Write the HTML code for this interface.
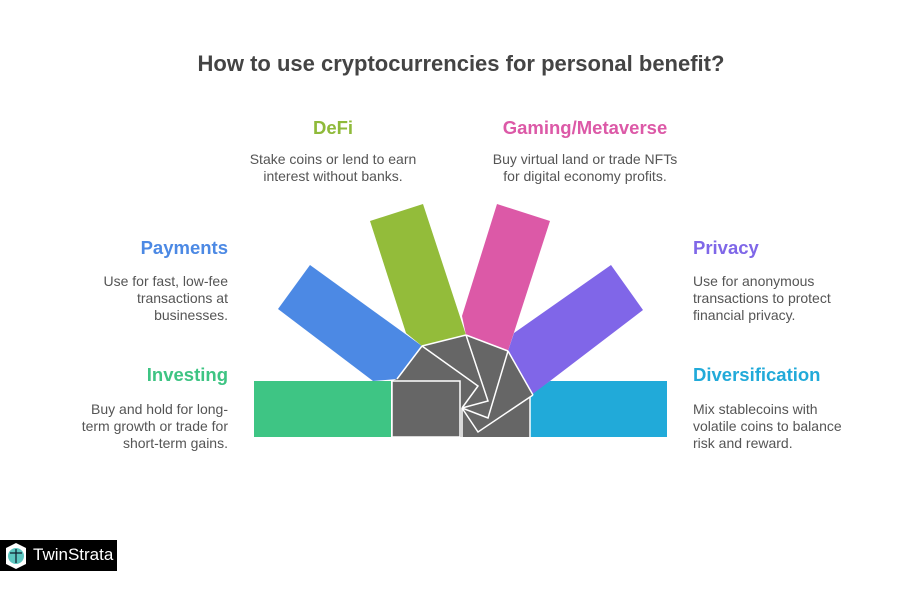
<!DOCTYPE html>
<html><head><meta charset="utf-8"><style>
body{margin:0;width:922px;height:600px;background:#fff;position:relative;overflow:hidden;font-family:"Liberation Sans",sans-serif;}
.t{position:absolute;white-space:nowrap;}
.h{font-weight:bold;font-size:18.5px;}
.d{font-size:14px;color:#555;line-height:17px;}
.r{text-align:right;}
.c{text-align:center;}
</style></head><body>
<div class="t c" style="left:0;width:922px;top:51px;font-size:22px;font-weight:bold;color:#444;">How to use cryptocurrencies for personal benefit?</div>

<div class="t h c" style="left:233px;width:200px;top:117px;color:#8fba3a;">DeFi</div>
<div class="t d c" style="left:223px;width:220px;top:151px;">Stake coins or lend to earn<br>interest without banks.</div>

<div class="t h c" style="left:485px;width:200px;top:117px;color:#dc59a7;">Gaming/Metaverse</div>
<div class="t d c" style="left:465px;width:240px;top:151px;">Buy virtual land or trade NFTs<br>for digital economy profits.</div>

<div class="t h r" style="right:694px;top:237px;color:#4c89e4;">Payments</div>
<div class="t d r" style="right:694px;top:273px;">Use for fast, low-fee<br>transactions at<br>businesses.</div>

<div class="t h r" style="right:694px;top:364px;color:#3ec483;">Investing</div>
<div class="t d r" style="right:694px;top:401px;">Buy and hold for long-<br>term growth or trade for<br>short-term gains.</div>

<div class="t h" style="left:693px;top:237px;color:#7f67e8;">Privacy</div>
<div class="t d" style="left:693px;top:273px;">Use for anonymous<br>transactions to protect<br>financial privacy.</div>

<div class="t h" style="left:693px;top:364px;color:#21aad9;">Diversification</div>
<div class="t d" style="left:693px;top:401px;">Mix stablecoins with<br>volatile coins to balance<br>risk and reward.</div>

<svg style="position:absolute;left:0;top:0" width="922" height="600">
<polygon points="310,265 422,346 397,379 373,381 278,309" fill="#4c89e4"/>
<polygon points="370,221 423,204 466,335 422,346 406,333" fill="#93bc3a"/>
<polygon points="497,204 550,221 508,351 466,335 462,316" fill="#dc59a7"/>
<polygon points="611,265 643,310 550,381 533,395 508,351 514,333" fill="#8066e8"/>
<rect x="254" y="381" width="137" height="56" fill="#3ec584"/>
<polygon points="530,396 550,381 667,381 667,437 530,437" fill="#21aad9"/>
<polygon points="392,381 397,379 422,346 466,335 508,351 533,395 530,397 530,437 392,437" fill="#666"/>
<g fill="none" stroke="#fff" stroke-width="1.5">
<polyline points="422,346 478,386 462,408"/>
<polyline points="466,335 488,401 462,408"/>
<polyline points="508,351 488,418 462,408"/>
<polyline points="533,395 478,432 462,408"/>
<rect x="392" y="381" width="68" height="56"/>
<line x1="462" y1="408" x2="462" y2="437"/>
<line x1="530" y1="397" x2="530" y2="437"/>
<line x1="397" y1="379" x2="422" y2="346"/>
<line x1="422" y1="346" x2="466" y2="335"/>
<line x1="466" y1="335" x2="508" y2="351"/>
<line x1="508" y1="351" x2="533" y2="395"/>
</g>
<rect x="0" y="540" width="117" height="31" fill="#000"/>
<path d="M16,543 L26,548 L26,564 L16,569 L6,564 L6,548 Z" fill="#fff"/>
<circle cx="16" cy="556" r="8" fill="#5cc6c0"/>
<g stroke="#123" stroke-width="1.3"><line x1="10" y1="553" x2="22" y2="553"/><line x1="16" y1="549" x2="16" y2="563"/></g>
</svg>
<div class="t" style="left:33px;top:545px;color:#fff;font-size:17px;">TwinStrata</div>
</body></html>
